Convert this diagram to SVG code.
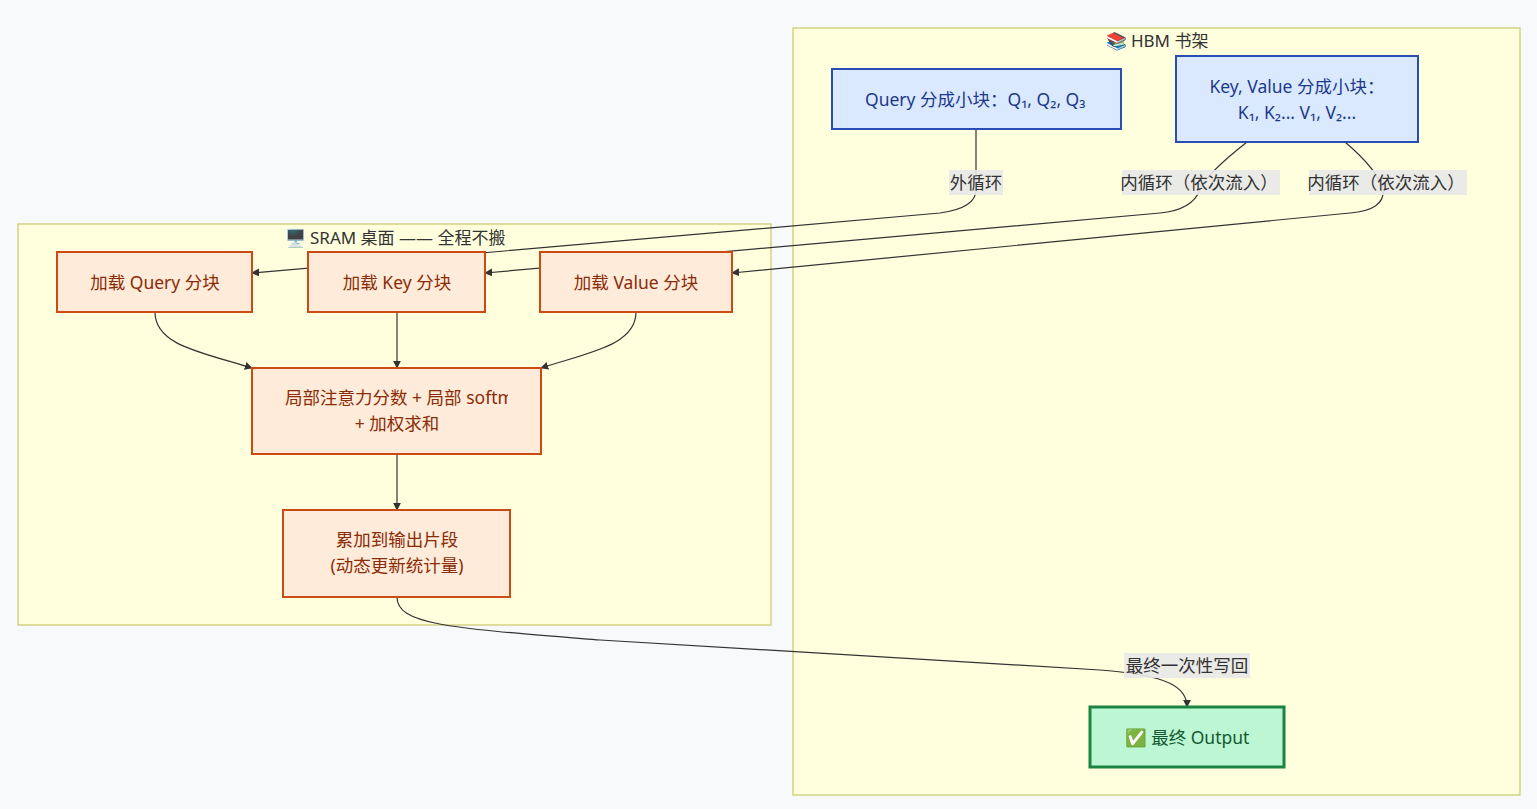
<svg xmlns="http://www.w3.org/2000/svg" width="1537" height="809" viewBox="0 0 1537 809">
<style>
text{font-family:"Noto Sans","Noto Sans CJK SC",sans-serif;font-size:17.5px;text-anchor:middle;dominant-baseline:central}
.cluster{fill:#ffffde;stroke:#c8c86a;stroke-width:1.2}
.ctitle{fill:#333;font-size:17px}
.blue rect{fill:#dbe9ff;stroke:#2a4db5;stroke-width:2}
.blue text{fill:#1b3a8c}
.org rect{fill:#ffebd9;stroke:#cc4a14;stroke-width:2}
.org text{fill:#8a2c08}
.grn rect{fill:#bdf6d2;stroke:#1a8440;stroke-width:3}
.grn text{fill:#145a32}
.edge{fill:none;stroke:#333;stroke-width:1.2}
.lbl rect{fill:#e8e8e8;opacity:0.9}
.lbl text{fill:#333}
</style>
<defs>
<marker id="arr" viewBox="0 0 10 10" refX="9" refY="5" markerWidth="8" markerHeight="8" orient="auto-start-reverse" markerUnits="userSpaceOnUse">
<path d="M0,0 L10,5 L0,10 z" fill="#333"/>
</marker>
<clipPath id="c1"><rect x="252" y="368" width="256" height="86"/></clipPath>
<clipPath id="c2"><rect x="832" y="69" width="257" height="60"/></clipPath>
</defs>
<rect width="1537" height="809" fill="#f8f9fb"/>
<g id="cluster-hbm">
<rect class="cluster" x="793" y="28" width="727" height="767"/>
<text class="ctitle" x="1157" y="40">📚 HBM 书架</text>
</g>
<g id="cluster-sram">
<rect class="cluster" x="18" y="224" width="753" height="401"/>
<text class="ctitle" x="395" y="237">🖥️ SRAM 桌面 —— 全程不搬</text>
</g>
<g id="connectors">
<path class="edge" d="M976,129 L976,190 Q976,208 940,213 L252,273" marker-end="url(#arr)"/>
<path class="edge" d="M1247,142 Q1205,175 1200,190 Q1192,210 1160,213 L485,273" marker-end="url(#arr)"/>
<path class="edge" d="M1345,142 Q1378,170 1383,190 Q1385,210 1350,213 L732,273" marker-end="url(#arr)"/>
<path class="edge" d="M155,312 C155,345 200,352 252,368" marker-end="url(#arr)"/>
<path class="edge" d="M397,312 L397,368" marker-end="url(#arr)"/>
<path class="edge" d="M636,312 C636,345 590,352 541,368" marker-end="url(#arr)"/>
<path class="edge" d="M397,454 L397,510" marker-end="url(#arr)"/>
<path class="edge" d="M397,597 C397,625 450,628 600,640 L1100,670 C1170,675 1187,688 1187,707" marker-end="url(#arr)"/>
</g>
<g id="edge-labels">
<g class="lbl"><rect x="949" y="170" width="54" height="25"/><text x="976" y="182">外循环</text></g>
<g class="lbl"><rect x="1122" y="170" width="158" height="25"/><text x="1199" y="182">内循环（依次流入）</text></g>
<g class="lbl"><rect x="1309" y="170" width="158" height="25"/><text x="1386" y="182">内循环（依次流入）</text></g>
<g class="lbl"><rect x="1124" y="653" width="126" height="25"/><text x="1187" y="665">最终一次性写回</text></g>
</g>
<g id="node-q" class="blue">
<rect x="832" y="69" width="289" height="60"/>
<text x="865" y="99" clip-path="url(#c2)" style="text-anchor:start">Query 分成小块：Q₁, Q₂, Q₃</text>
</g>
<g id="node-kv" class="blue">
<rect x="1176" y="56" width="242" height="86"/>
<text x="1297" y="86">Key, Value 分成小块：</text>
<text x="1297" y="112">K₁, K₂... V₁, V₂...</text>
</g>
<g id="node-lq" class="org">
<rect x="57" y="252" width="195" height="60"/>
<text x="155" y="282">加载 Query 分块</text>
</g>
<g id="node-lk" class="org">
<rect x="308" y="252" width="177" height="60"/>
<text x="397" y="282">加载 Key 分块</text>
</g>
<g id="node-lv" class="org">
<rect x="540" y="252" width="192" height="60"/>
<text x="636" y="282">加载 Value 分块</text>
</g>
<g id="node-attn" class="org">
<rect x="252" y="368" width="289" height="86"/>
<text x="285" y="397" clip-path="url(#c1)" style="text-anchor:start">局部注意力分数 + 局部 softm</text>
<text x="397" y="423">+ 加权求和</text>
</g>
<g id="node-acc" class="org">
<rect x="283" y="510" width="227" height="87"/>
<text x="397" y="539">累加到输出片段</text>
<text x="397" y="565">(动态更新统计量)</text>
</g>
<g id="node-out" class="grn">
<rect x="1090" y="707" width="194" height="60"/>
<text x="1187" y="737">✅ 最终 Output</text>
</g>
</svg>
